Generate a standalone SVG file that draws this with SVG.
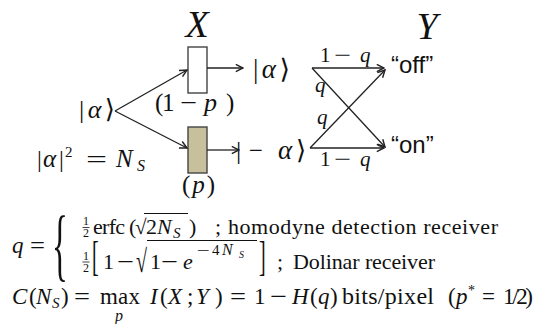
<svg xmlns="http://www.w3.org/2000/svg" width="540" height="324" viewBox="0 0 540 324">
<style>
.m{font-family:"Liberation Serif","DejaVu Serif",serif;fill:#111}
.i{font-style:italic}
.s{font-family:"Liberation Sans",Arial,sans-serif;fill:#111}
.br{font-family:"DejaVu Serif","Liberation Serif",serif}
.ln{stroke:#222;stroke-width:1.3;fill:none}
.box{stroke:#444;stroke-width:1.4}
.fb{stroke:#111;stroke-width:0.8}
.vb{stroke:#111;stroke-width:1}
</style>
<defs>
<marker id="ah" viewBox="0 0 10 10" refX="9" refY="5" markerWidth="9" markerHeight="9" orient="auto" markerUnits="userSpaceOnUse">
<path d="M1,1 L9,5 L1,9" fill="none" stroke="#222" stroke-width="1.6"/>
</marker>
</defs>
<rect width="540" height="324" fill="#fff"/>

<text class="m i" x="197" y="37" font-size="38" text-anchor="middle">X</text>
<text class="m i" x="427" y="39" font-size="38" text-anchor="middle">Y</text>

<g id="input">
<text class="m" font-size="26" x="79" y="118" textLength="36">|<tspan class="i">α</tspan><tspan class="br">⟩</tspan></text>
<text class="m" font-size="24" x="37" y="167">|</text>
<text class="m i" font-size="25" x="43" y="167">α</text>
<text class="m" font-size="24" x="59" y="167">|</text>
<text class="m" font-size="15" x="65" y="157">2</text>
<text class="m" font-size="24" x="86" y="167" textLength="21" lengthAdjust="spacingAndGlyphs">=</text>
<text class="m i" font-size="25" x="116" y="167">N</text>
<text class="m i" font-size="16" x="137" y="171">S</text>
</g>

<g id="box-off">
<rect class="box" x="188" y="47" width="19" height="46" fill="#fff"/>
<text class="m" font-size="25" x="155" y="111">(</text>
<text class="m" font-size="25" x="162" y="111">1</text>
<text class="m" font-size="25" x="180" y="111" textLength="17" lengthAdjust="spacingAndGlyphs">−</text>
<text class="m i" font-size="26" x="204" y="111">p</text>
<text class="m" font-size="25" x="226" y="111">)</text>
</g>

<g id="box-on">
<rect class="box" x="188" y="127" width="19" height="46" fill="#c8bf9d"/>
<text class="m" font-size="25" x="182" y="193" textLength="33">(<tspan class="i">p</tspan>)</text>
</g>

<g id="state-alpha">
<text class="m" font-size="27" x="253" y="78" textLength="37">|<tspan class="i">α</tspan><tspan class="br">⟩</tspan></text>
</g>
<g id="state-minus-alpha">
<text class="m" font-size="26" x="236" y="159">|</text>
<text class="m" font-size="26" x="249" y="159" textLength="14" lengthAdjust="spacingAndGlyphs">−</text>
<text class="m i" font-size="27" x="278" y="159">α</text>
<text class="m br" font-size="26" x="296" y="159">⟩</text>
</g>

<g id="out-off"><text class="s" font-size="24" x="391" y="73">“off”</text></g>
<g id="out-on"><text class="s" font-size="24" x="391" y="153">“on”</text></g>

<g id="connectors">
<line class="ln" x1="115" y1="111" x2="187" y2="70" marker-end="url(#ah)"/>
<line class="ln" x1="115" y1="111" x2="187" y2="148" marker-end="url(#ah)"/>
<line class="ln" x1="207" y1="68" x2="243" y2="68" marker-end="url(#ah)"/>
<line class="ln" x1="207" y1="150" x2="239" y2="150" marker-end="url(#ah)"/>
<line class="ln" x1="312" y1="68" x2="384" y2="68" marker-end="url(#ah)"/>
<line class="ln" x1="312" y1="68" x2="385" y2="147" marker-end="url(#ah)"/>
<line class="ln" x1="310" y1="148" x2="385" y2="70" marker-end="url(#ah)"/>
<line class="ln" x1="310" y1="148" x2="384" y2="148" marker-end="url(#ah)"/>
<text class="m" font-size="21" x="320" y="62">1</text>
<text class="m" font-size="21" x="334" y="62" textLength="17" lengthAdjust="spacingAndGlyphs">−</text>
<text class="m i" font-size="21" x="360" y="62">q</text>
<text class="m i" font-size="21" x="315" y="92">q</text>
<text class="m i" font-size="21" x="317" y="124">q</text>
<text class="m" font-size="21" x="320" y="166">1</text>
<text class="m" font-size="21" x="334" y="166" textLength="17" lengthAdjust="spacingAndGlyphs">−</text>
<text class="m i" font-size="21" x="360" y="166">q</text>
</g>

<g id="formula-q">
<text class="m i" font-size="23" x="12" y="253">q</text>
<text class="m" font-size="23" x="30" y="253" textLength="15" lengthAdjust="spacingAndGlyphs">=</text>
<text class="m" font-size="44" transform="translate(52,271) scale(0.75,1.83)">{</text>
<!-- line 1 -->
<text class="m" font-size="12" x="86" y="225" text-anchor="middle">1</text>
<line class="fb" x1="82.5" y1="227.5" x2="89.5" y2="227.5"/>
<text class="m" font-size="12" x="86" y="236.5" text-anchor="middle">2</text>
<text class="m" font-size="22" x="93" y="234" textLength="32">erfc</text>
<text class="m" font-size="22" x="129" y="234">(</text>
<text class="m" font-size="21" x="135" y="234">√</text>
<line class="vb" x1="144" y1="213.5" x2="188" y2="213.5"/>
<text class="m" font-size="22" x="146" y="234">2</text>
<text class="m i" font-size="22" x="157" y="234">N</text>
<text class="m i" font-size="15" x="173" y="238">S</text>
<text class="m" font-size="22" x="189" y="234">)</text>
<text class="m" font-size="22" x="215" y="234">;</text>
<text class="m" font-size="22" x="228" y="234" textLength="270">homodyne detection receiver</text>
<!-- line 2 -->
<text class="m" font-size="12" x="86" y="259.5" text-anchor="middle">1</text>
<line class="fb" x1="82.5" y1="262" x2="89.5" y2="262"/>
<text class="m" font-size="12" x="86" y="272" text-anchor="middle">2</text>
<text class="m" font-size="20" transform="translate(92,270) scale(1,2.1)">[</text>
<text class="m" font-size="22" x="103" y="269">1</text>
<text class="m" font-size="22" x="117" y="269" textLength="17" lengthAdjust="spacingAndGlyphs">−</text>
<text class="m" font-size="20" transform="translate(136,272) scale(1,1.6)">√</text>
<line class="vb" x1="147" y1="240.5" x2="257" y2="240.5"/>
<text class="m" font-size="22" x="150" y="269">1</text>
<text class="m" font-size="22" x="161" y="269" textLength="17" lengthAdjust="spacingAndGlyphs">−</text>
<text class="m i" font-size="22" x="183" y="269">e</text>
<text class="m" font-size="14" x="197" y="255" textLength="13" lengthAdjust="spacingAndGlyphs">−</text>
<text class="m" font-size="15" x="212" y="255">4</text>
<text class="m i" font-size="16" x="222" y="255">N</text>
<text class="m i" font-size="10" x="239" y="258">S</text>
<text class="m" font-size="20" transform="translate(259,270) scale(1,2.1)">]</text>
<text class="m" font-size="22" x="277" y="269">;</text>
<text class="m" font-size="22" x="293" y="269" textLength="142">Dolinar receiver</text>
</g>

<g id="formula-c">
<text class="m i" font-size="23" x="12" y="304">C</text>
<text class="m" font-size="23" x="29" y="304">(</text>
<text class="m i" font-size="23" x="36" y="304">N</text>
<text class="m i" font-size="15" x="52" y="308">S</text>
<text class="m" font-size="23" x="61" y="304">)</text>
<text class="m" font-size="23" x="74" y="304" textLength="16" lengthAdjust="spacingAndGlyphs">=</text>
<text class="m" font-size="23" x="100" y="304" textLength="40">max</text>
<text class="m i" font-size="16" x="115" y="321">p</text>
<text class="m" font-size="23" y="304"><tspan class="i" x="150">I</tspan><tspan x="160">(</tspan><tspan class="i" x="168">X</tspan><tspan x="187">;</tspan><tspan class="i" x="196">Y</tspan><tspan x="215">)</tspan></text>
<text class="m" font-size="23" x="230" y="304" textLength="16" lengthAdjust="spacingAndGlyphs">=</text>
<text class="m" font-size="23" x="254" y="304">1</text>
<text class="m" font-size="23" x="270" y="304" textLength="17" lengthAdjust="spacingAndGlyphs">−</text>
<text class="m" font-size="23" y="304"><tspan class="i" x="292">H</tspan><tspan x="310">(</tspan><tspan class="i" x="318">q</tspan><tspan x="330">)</tspan></text>
<text class="m" font-size="24" x="342" y="304" textLength="92">bits/pixel</text>
<text class="m" font-size="23" y="304"><tspan x="448">(</tspan><tspan class="i" x="456">p</tspan><tspan x="468" font-size="14" dy="-9">*</tspan><tspan x="482" dy="9">=</tspan></text>
<text class="m" font-size="23" x="503" y="304" textLength="30">1/2)</text>
</g>
</svg>
